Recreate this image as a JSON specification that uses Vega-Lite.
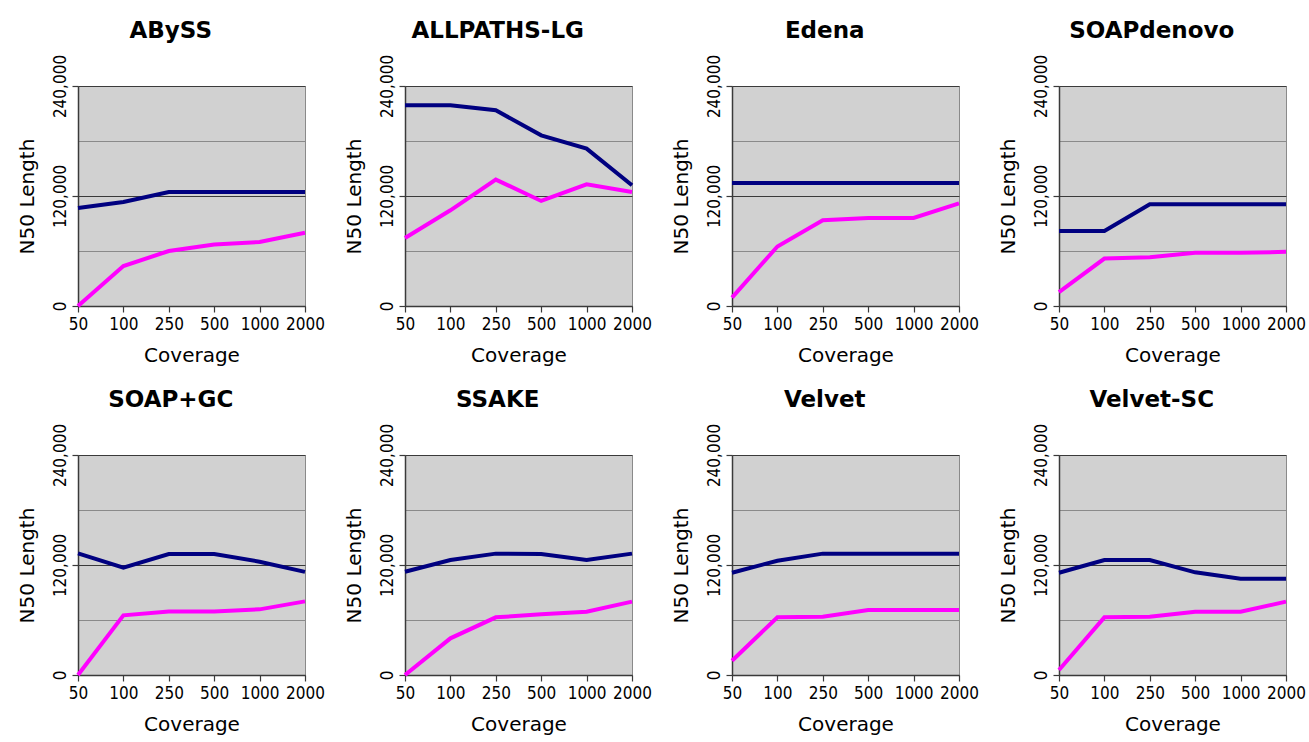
{
  "$schema": "https://vega.github.io/schema/vega-lite/v6.json",
  "autosize": {"type": "none"},
  "padding": {"left": 78, "top": 86, "right": 1231, "bottom": 656},
  "background": "white",
  "datasets": {
    "n50": [
      {"assembler": "ABySS", "coverage": 50, "series": "scaffold", "n50": 107000},
      {"assembler": "ABySS", "coverage": 100, "series": "scaffold", "n50": 113500},
      {"assembler": "ABySS", "coverage": 250, "series": "scaffold", "n50": 124400},
      {"assembler": "ABySS", "coverage": 500, "series": "scaffold", "n50": 124400},
      {"assembler": "ABySS", "coverage": 1000, "series": "scaffold", "n50": 124400},
      {"assembler": "ABySS", "coverage": 2000, "series": "scaffold", "n50": 124400},
      {"assembler": "ABySS", "coverage": 50, "series": "contig", "n50": 0},
      {"assembler": "ABySS", "coverage": 100, "series": "contig", "n50": 43600},
      {"assembler": "ABySS", "coverage": 250, "series": "contig", "n50": 60000},
      {"assembler": "ABySS", "coverage": 500, "series": "contig", "n50": 67000},
      {"assembler": "ABySS", "coverage": 1000, "series": "contig", "n50": 69800},
      {"assembler": "ABySS", "coverage": 2000, "series": "contig", "n50": 80000},
      {"assembler": "ALLPATHS-LG", "coverage": 50, "series": "scaffold", "n50": 219000},
      {"assembler": "ALLPATHS-LG", "coverage": 100, "series": "scaffold", "n50": 219000},
      {"assembler": "ALLPATHS-LG", "coverage": 250, "series": "scaffold", "n50": 213500},
      {"assembler": "ALLPATHS-LG", "coverage": 500, "series": "scaffold", "n50": 186200},
      {"assembler": "ALLPATHS-LG", "coverage": 1000, "series": "scaffold", "n50": 171700},
      {"assembler": "ALLPATHS-LG", "coverage": 2000, "series": "scaffold", "n50": 131700},
      {"assembler": "ALLPATHS-LG", "coverage": 50, "series": "contig", "n50": 74200},
      {"assembler": "ALLPATHS-LG", "coverage": 100, "series": "contig", "n50": 104400},
      {"assembler": "ALLPATHS-LG", "coverage": 250, "series": "contig", "n50": 137900},
      {"assembler": "ALLPATHS-LG", "coverage": 500, "series": "contig", "n50": 114600},
      {"assembler": "ALLPATHS-LG", "coverage": 1000, "series": "contig", "n50": 132800},
      {"assembler": "ALLPATHS-LG", "coverage": 2000, "series": "contig", "n50": 124400},
      {"assembler": "Edena", "coverage": 50, "series": "scaffold", "n50": 134100},
      {"assembler": "Edena", "coverage": 100, "series": "scaffold", "n50": 134100},
      {"assembler": "Edena", "coverage": 250, "series": "scaffold", "n50": 134100},
      {"assembler": "Edena", "coverage": 500, "series": "scaffold", "n50": 134100},
      {"assembler": "Edena", "coverage": 1000, "series": "scaffold", "n50": 134100},
      {"assembler": "Edena", "coverage": 2000, "series": "scaffold", "n50": 134100},
      {"assembler": "Edena", "coverage": 50, "series": "contig", "n50": 9100},
      {"assembler": "Edena", "coverage": 100, "series": "contig", "n50": 64900},
      {"assembler": "Edena", "coverage": 250, "series": "contig", "n50": 93500},
      {"assembler": "Edena", "coverage": 500, "series": "contig", "n50": 96100},
      {"assembler": "Edena", "coverage": 1000, "series": "contig", "n50": 96100},
      {"assembler": "Edena", "coverage": 2000, "series": "contig", "n50": 112000},
      {"assembler": "SOAPdenovo", "coverage": 50, "series": "scaffold", "n50": 81900},
      {"assembler": "SOAPdenovo", "coverage": 100, "series": "scaffold", "n50": 81900},
      {"assembler": "SOAPdenovo", "coverage": 250, "series": "scaffold", "n50": 110900},
      {"assembler": "SOAPdenovo", "coverage": 500, "series": "scaffold", "n50": 110900},
      {"assembler": "SOAPdenovo", "coverage": 1000, "series": "scaffold", "n50": 110900},
      {"assembler": "SOAPdenovo", "coverage": 2000, "series": "scaffold", "n50": 110900},
      {"assembler": "SOAPdenovo", "coverage": 50, "series": "contig", "n50": 15200},
      {"assembler": "SOAPdenovo", "coverage": 100, "series": "contig", "n50": 51800},
      {"assembler": "SOAPdenovo", "coverage": 250, "series": "contig", "n50": 53300},
      {"assembler": "SOAPdenovo", "coverage": 500, "series": "contig", "n50": 58000},
      {"assembler": "SOAPdenovo", "coverage": 1000, "series": "contig", "n50": 58000},
      {"assembler": "SOAPdenovo", "coverage": 2000, "series": "contig", "n50": 59100},
      {"assembler": "SOAP+GC", "coverage": 50, "series": "scaffold", "n50": 132700},
      {"assembler": "SOAP+GC", "coverage": 100, "series": "scaffold", "n50": 117100},
      {"assembler": "SOAP+GC", "coverage": 250, "series": "scaffold", "n50": 132000},
      {"assembler": "SOAP+GC", "coverage": 500, "series": "scaffold", "n50": 132000},
      {"assembler": "SOAP+GC", "coverage": 1000, "series": "scaffold", "n50": 123600},
      {"assembler": "SOAP+GC", "coverage": 2000, "series": "scaffold", "n50": 112500},
      {"assembler": "SOAP+GC", "coverage": 50, "series": "contig", "n50": 0},
      {"assembler": "SOAP+GC", "coverage": 100, "series": "contig", "n50": 65100},
      {"assembler": "SOAP+GC", "coverage": 250, "series": "contig", "n50": 69400},
      {"assembler": "SOAP+GC", "coverage": 500, "series": "contig", "n50": 69400},
      {"assembler": "SOAP+GC", "coverage": 1000, "series": "contig", "n50": 71600},
      {"assembler": "SOAP+GC", "coverage": 2000, "series": "contig", "n50": 80300},
      {"assembler": "SSAKE", "coverage": 50, "series": "scaffold", "n50": 112700},
      {"assembler": "SSAKE", "coverage": 100, "series": "scaffold", "n50": 125500},
      {"assembler": "SSAKE", "coverage": 250, "series": "scaffold", "n50": 132400},
      {"assembler": "SSAKE", "coverage": 500, "series": "scaffold", "n50": 132000},
      {"assembler": "SSAKE", "coverage": 1000, "series": "scaffold", "n50": 125500},
      {"assembler": "SSAKE", "coverage": 2000, "series": "scaffold", "n50": 132400},
      {"assembler": "SSAKE", "coverage": 50, "series": "contig", "n50": 0},
      {"assembler": "SSAKE", "coverage": 100, "series": "contig", "n50": 40000},
      {"assembler": "SSAKE", "coverage": 250, "series": "contig", "n50": 62900},
      {"assembler": "SSAKE", "coverage": 500, "series": "contig", "n50": 66200},
      {"assembler": "SSAKE", "coverage": 1000, "series": "contig", "n50": 69100},
      {"assembler": "SSAKE", "coverage": 2000, "series": "contig", "n50": 80000},
      {"assembler": "Velvet", "coverage": 50, "series": "scaffold", "n50": 111600},
      {"assembler": "Velvet", "coverage": 100, "series": "scaffold", "n50": 124700},
      {"assembler": "Velvet", "coverage": 250, "series": "scaffold", "n50": 132400},
      {"assembler": "Velvet", "coverage": 500, "series": "scaffold", "n50": 132400},
      {"assembler": "Velvet", "coverage": 1000, "series": "scaffold", "n50": 132400},
      {"assembler": "Velvet", "coverage": 2000, "series": "scaffold", "n50": 132400},
      {"assembler": "Velvet", "coverage": 50, "series": "contig", "n50": 15600},
      {"assembler": "Velvet", "coverage": 100, "series": "contig", "n50": 62900},
      {"assembler": "Velvet", "coverage": 250, "series": "contig", "n50": 63600},
      {"assembler": "Velvet", "coverage": 500, "series": "contig", "n50": 70900},
      {"assembler": "Velvet", "coverage": 1000, "series": "contig", "n50": 70900},
      {"assembler": "Velvet", "coverage": 2000, "series": "contig", "n50": 70900},
      {"assembler": "Velvet-SC", "coverage": 50, "series": "scaffold", "n50": 111600},
      {"assembler": "Velvet-SC", "coverage": 100, "series": "scaffold", "n50": 125500},
      {"assembler": "Velvet-SC", "coverage": 250, "series": "scaffold", "n50": 125500},
      {"assembler": "Velvet-SC", "coverage": 500, "series": "scaffold", "n50": 112000},
      {"assembler": "Velvet-SC", "coverage": 1000, "series": "scaffold", "n50": 105100},
      {"assembler": "Velvet-SC", "coverage": 2000, "series": "scaffold", "n50": 105100},
      {"assembler": "Velvet-SC", "coverage": 50, "series": "contig", "n50": 5500},
      {"assembler": "Velvet-SC", "coverage": 100, "series": "contig", "n50": 62900},
      {"assembler": "Velvet-SC", "coverage": 250, "series": "contig", "n50": 63600},
      {"assembler": "Velvet-SC", "coverage": 500, "series": "contig", "n50": 69100},
      {"assembler": "Velvet-SC", "coverage": 1000, "series": "contig", "n50": 69100},
      {"assembler": "Velvet-SC", "coverage": 2000, "series": "contig", "n50": 80000}
    ]
  },
  "data": {"name": "n50"},
  "columns": 4,
  "spacing": {"row": 149, "column": 100},
  "bounds": "flush",
  "concat": [
    {"title": "ABySS", "width": 227, "height": 220, "transform": [{"filter": "datum.assembler === 'ABySS'"}],
     "mark": {"type": "line", "strokeWidth": 4},
     "encoding": {
       "x": {"field": "coverage", "type": "ordinal", "scale": {"type": "point", "padding": 0}, "axis": {"title": "Coverage"}},
       "y": {"field": "n50", "type": "quantitative", "scale": {"domain": [0, 240000], "nice": false}, "axis": {"title": "N50 Length", "values": [0, 60000, 120000, 180000, 240000], "labelExpr": "datum.value % 120000 == 0 ? format(datum.value, ',') : ''", "tickOpacity": {"condition": {"test": "datum.value % 120000 == 0", "value": 1}, "value": 0}, "gridColor": {"condition": {"test": "datum.value % 120000 == 0", "value": "#3a3a3a"}, "value": "#8a8a8a"}}},
       "color": {"field": "series", "type": "nominal", "scale": {"domain": ["scaffold", "contig"], "range": ["#000080", "#ff00ff"]}, "legend": null}
     }},
    {"title": "ALLPATHS-LG", "width": 227, "height": 220, "transform": [{"filter": "datum.assembler === 'ALLPATHS-LG'"}],
     "mark": {"type": "line", "strokeWidth": 4},
     "encoding": {
       "x": {"field": "coverage", "type": "ordinal", "scale": {"type": "point", "padding": 0}, "axis": {"title": "Coverage"}},
       "y": {"field": "n50", "type": "quantitative", "scale": {"domain": [0, 240000], "nice": false}, "axis": {"title": "N50 Length", "values": [0, 60000, 120000, 180000, 240000], "labelExpr": "datum.value % 120000 == 0 ? format(datum.value, ',') : ''", "tickOpacity": {"condition": {"test": "datum.value % 120000 == 0", "value": 1}, "value": 0}, "gridColor": {"condition": {"test": "datum.value % 120000 == 0", "value": "#3a3a3a"}, "value": "#8a8a8a"}}},
       "color": {"field": "series", "type": "nominal", "scale": {"domain": ["scaffold", "contig"], "range": ["#000080", "#ff00ff"]}, "legend": null}
     }},
    {"title": "Edena", "width": 227, "height": 220, "transform": [{"filter": "datum.assembler === 'Edena'"}],
     "mark": {"type": "line", "strokeWidth": 4},
     "encoding": {
       "x": {"field": "coverage", "type": "ordinal", "scale": {"type": "point", "padding": 0}, "axis": {"title": "Coverage"}},
       "y": {"field": "n50", "type": "quantitative", "scale": {"domain": [0, 240000], "nice": false}, "axis": {"title": "N50 Length", "values": [0, 60000, 120000, 180000, 240000], "labelExpr": "datum.value % 120000 == 0 ? format(datum.value, ',') : ''", "tickOpacity": {"condition": {"test": "datum.value % 120000 == 0", "value": 1}, "value": 0}, "gridColor": {"condition": {"test": "datum.value % 120000 == 0", "value": "#3a3a3a"}, "value": "#8a8a8a"}}},
       "color": {"field": "series", "type": "nominal", "scale": {"domain": ["scaffold", "contig"], "range": ["#000080", "#ff00ff"]}, "legend": null}
     }},
    {"title": "SOAPdenovo", "width": 227, "height": 220, "transform": [{"filter": "datum.assembler === 'SOAPdenovo'"}],
     "mark": {"type": "line", "strokeWidth": 4},
     "encoding": {
       "x": {"field": "coverage", "type": "ordinal", "scale": {"type": "point", "padding": 0}, "axis": {"title": "Coverage"}},
       "y": {"field": "n50", "type": "quantitative", "scale": {"domain": [0, 240000], "nice": false}, "axis": {"title": "N50 Length", "values": [0, 60000, 120000, 180000, 240000], "labelExpr": "datum.value % 120000 == 0 ? format(datum.value, ',') : ''", "tickOpacity": {"condition": {"test": "datum.value % 120000 == 0", "value": 1}, "value": 0}, "gridColor": {"condition": {"test": "datum.value % 120000 == 0", "value": "#3a3a3a"}, "value": "#8a8a8a"}}},
       "color": {"field": "series", "type": "nominal", "scale": {"domain": ["scaffold", "contig"], "range": ["#000080", "#ff00ff"]}, "legend": null}
     }},
    {"title": "SOAP+GC", "width": 227, "height": 220, "transform": [{"filter": "datum.assembler === 'SOAP+GC'"}],
     "mark": {"type": "line", "strokeWidth": 4},
     "encoding": {
       "x": {"field": "coverage", "type": "ordinal", "scale": {"type": "point", "padding": 0}, "axis": {"title": "Coverage"}},
       "y": {"field": "n50", "type": "quantitative", "scale": {"domain": [0, 240000], "nice": false}, "axis": {"title": "N50 Length", "values": [0, 60000, 120000, 180000, 240000], "labelExpr": "datum.value % 120000 == 0 ? format(datum.value, ',') : ''", "tickOpacity": {"condition": {"test": "datum.value % 120000 == 0", "value": 1}, "value": 0}, "gridColor": {"condition": {"test": "datum.value % 120000 == 0", "value": "#3a3a3a"}, "value": "#8a8a8a"}}},
       "color": {"field": "series", "type": "nominal", "scale": {"domain": ["scaffold", "contig"], "range": ["#000080", "#ff00ff"]}, "legend": null}
     }},
    {"title": "SSAKE", "width": 227, "height": 220, "transform": [{"filter": "datum.assembler === 'SSAKE'"}],
     "mark": {"type": "line", "strokeWidth": 4},
     "encoding": {
       "x": {"field": "coverage", "type": "ordinal", "scale": {"type": "point", "padding": 0}, "axis": {"title": "Coverage"}},
       "y": {"field": "n50", "type": "quantitative", "scale": {"domain": [0, 240000], "nice": false}, "axis": {"title": "N50 Length", "values": [0, 60000, 120000, 180000, 240000], "labelExpr": "datum.value % 120000 == 0 ? format(datum.value, ',') : ''", "tickOpacity": {"condition": {"test": "datum.value % 120000 == 0", "value": 1}, "value": 0}, "gridColor": {"condition": {"test": "datum.value % 120000 == 0", "value": "#3a3a3a"}, "value": "#8a8a8a"}}},
       "color": {"field": "series", "type": "nominal", "scale": {"domain": ["scaffold", "contig"], "range": ["#000080", "#ff00ff"]}, "legend": null}
     }},
    {"title": "Velvet", "width": 227, "height": 220, "transform": [{"filter": "datum.assembler === 'Velvet'"}],
     "mark": {"type": "line", "strokeWidth": 4},
     "encoding": {
       "x": {"field": "coverage", "type": "ordinal", "scale": {"type": "point", "padding": 0}, "axis": {"title": "Coverage"}},
       "y": {"field": "n50", "type": "quantitative", "scale": {"domain": [0, 240000], "nice": false}, "axis": {"title": "N50 Length", "values": [0, 60000, 120000, 180000, 240000], "labelExpr": "datum.value % 120000 == 0 ? format(datum.value, ',') : ''", "tickOpacity": {"condition": {"test": "datum.value % 120000 == 0", "value": 1}, "value": 0}, "gridColor": {"condition": {"test": "datum.value % 120000 == 0", "value": "#3a3a3a"}, "value": "#8a8a8a"}}},
       "color": {"field": "series", "type": "nominal", "scale": {"domain": ["scaffold", "contig"], "range": ["#000080", "#ff00ff"]}, "legend": null}
     }},
    {"title": "Velvet-SC", "width": 227, "height": 220, "transform": [{"filter": "datum.assembler === 'Velvet-SC'"}],
     "mark": {"type": "line", "strokeWidth": 4},
     "encoding": {
       "x": {"field": "coverage", "type": "ordinal", "scale": {"type": "point", "padding": 0}, "axis": {"title": "Coverage"}},
       "y": {"field": "n50", "type": "quantitative", "scale": {"domain": [0, 240000], "nice": false}, "axis": {"title": "N50 Length", "values": [0, 60000, 120000, 180000, 240000], "labelExpr": "datum.value % 120000 == 0 ? format(datum.value, ',') : ''", "tickOpacity": {"condition": {"test": "datum.value % 120000 == 0", "value": 1}, "value": 0}, "gridColor": {"condition": {"test": "datum.value % 120000 == 0", "value": "#3a3a3a"}, "value": "#8a8a8a"}}},
       "color": {"field": "series", "type": "nominal", "scale": {"domain": ["scaffold", "contig"], "range": ["#000080", "#ff00ff"]}, "legend": null}
     }}
  ],
  "config": {
    "view": {"fill": "#d1d1d1", "stroke": "#8a8a8a", "strokeWidth": 1},
    "title": {"font": "DejaVu Sans", "fontSize": 23, "fontWeight": "bold", "color": "#000000", "anchor": "middle", "frame": "bounds", "baseline": "alphabetic", "offset": 11, "dx": 0},
    "axis": {
      "labelFont": "Liberation Sans Narrow, DejaVu Sans Condensed, DejaVu Sans",
      "labelFontSize": 17,
      "labelColor": "#000000",
      "labelFlush": false,
      "labelOverlap": false,
      "labelBound": false,
      "titleFont": "DejaVu Sans",
      "titleFontSize": 20,
      "titleFontWeight": "normal",
      "titleColor": "#000000",
      "domainColor": "#3a3a3a",
      "domainWidth": 1.5,
      "tickColor": "#3a3a3a",
      "tickWidth": 1.2,
      "tickSize": 6,
      "gridWidth": 1.2,
      "gridOpacity": 1
    },
    "axisX": {"labelAngle": 0, "labelPadding": 4, "titlePadding": 13, "grid": false},
    "axisY": {"labelAngle": 270, "labelPadding": 3, "titlePadding": 14, "grid": true}
  }
}
